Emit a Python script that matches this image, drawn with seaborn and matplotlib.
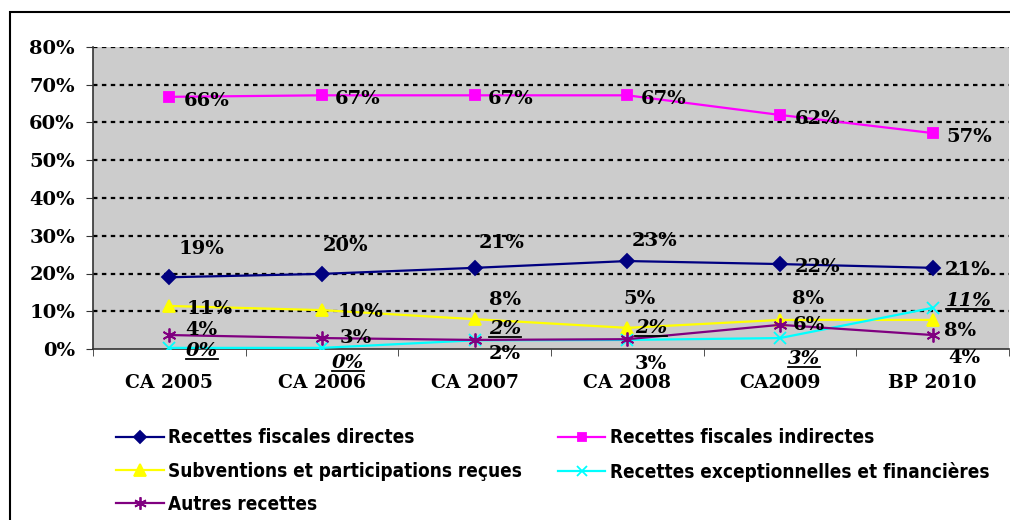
import numpy as np
import pandas as pd
import matplotlib
matplotlib.use("Agg")
import matplotlib.pyplot as plt
import seaborn as sns
from matplotlib.patches import Rectangle
from matplotlib.lines import Line2D

# Data (percentages)
years = ["CA 2005", "CA 2006", "CA 2007", "CA 2008", "CA2009", "BP 2010"]
directes = [19.0, 19.9, 21.5, 23.3, 22.5, 21.5]
indirectes = [66.8, 67.2, 67.2, 67.2, 62.0, 57.2]
subventions = [11.4, 10.3, 7.9, 5.6, 7.7, 7.7]
exceptionnelles = [0.3, 0.3, 2.3, 2.4, 2.9, 10.9]
autres = [3.7, 2.9, 2.4, 2.6, 6.4, 3.7]

# data labels as printed on the chart
lab_directes = ["19%", "20%", "21%", "23%", "22%", "21%"]
lab_indirectes = ["66%", "67%", "67%", "67%", "62%", "57%"]
lab_subventions = ["11%", "10%", "8%", "5%", "8%", "8%"]
lab_exceptionnelles = ["0%", "0%", "2%", "2%", "3%", "11%"]
lab_autres = ["4%", "3%", "2%", "3%", "6%", "4%"]

names = ["Recettes fiscales directes", "Recettes fiscales indirectes",
         "Subventions et participations reçues",
         "Recettes exceptionnelles et financières", "Autres recettes"]

# label offsets in pixels (dx right, dy up)
off_directes = [(32, 28), (23, 28), (27, 25), (27, 20), (38, -3), (35, -2)]
off_indirectes = [(37, -4), (36, -4), (36, -4), (36, -4), (38, -4), (37, -4)]
off_subventions = [(40, -3), (38, -2), (30, 19), (12, 29), (28, 21), (27, -11)]
off_exceptionnelles = [(33, -3), (26, -15), (30, 11), (24, 12), (24, -21), (36, 7)]
off_autres = [(32, 5), (34, 0), (30, -14), (23, -25), (29, 0), (32, -23)]

series = [
    (names[0], directes, lab_directes, off_directes, "#000080", "D", 7, False),
    (names[1], indirectes, lab_indirectes, off_indirectes, "#FF00FF", "s", 7, False),
    (names[2], subventions, lab_subventions, off_subventions, "#FFFF00", "^", 9, False),
    (names[3], exceptionnelles, lab_exceptionnelles, off_exceptionnelles, "#00FFFF", "x", 8, True),
    (names[4], autres, lab_autres, off_autres, "#800080", (6, 2, 0), 10, False),
]

pos = np.arange(len(years))

fig = plt.figure(figsize=(10.1, 5.2), dpi=100)
ax = fig.add_axes([93 / 1010, 1 - 349 / 520, (1009 - 93) / 1010, (349 - 47) / 520])
ax.set_facecolor("#CCCCCC")

serif = ["DejaVu Serif"]
handles = {}
for name, vals, labs, offs, col, mk, ms, special in series:
    df = pd.DataFrame({"x": pos, "y": vals})
    sns.lineplot(data=df, x="x", y="y", ax=ax, color=col, marker=mk,
                 markersize=ms, markeredgecolor=col, markerfacecolor=col,
                 markeredgewidth=1.3, linewidth=1.6, legend=False, zorder=3)
    handles[name] = Line2D([], [], color=col, marker=mk, markersize=ms - 1,
                           markeredgecolor=col, markerfacecolor=col,
                           markeredgewidth=1.3, linewidth=1.6)

underline_texts = []
for name, vals, labs, offs, col, mk, ms, special in series:
    for i, (v, t, (dx, dy)) in enumerate(zip(vals, labs, offs)):
        txt = ax.annotate(t, xy=(pos[i], v), xytext=(dx * 0.72, dy * 0.72),
                          textcoords="offset points", ha="center", va="center",
                          fontsize=14, fontweight="bold", family=serif,
                          style="italic" if special else "normal",
                          color="black", zorder=5)
        if special:
            underline_texts.append(txt)

ax.set_xlim(-0.5, len(years) - 0.5)
ax.set_ylim(0, 80)
ax.set_yticks(np.arange(0, 81, 10))
ax.set_yticklabels([f"{v}%" for v in range(0, 81, 10)], fontsize=14,
                   fontweight="bold", family=serif)
ax.set_xticks(pos)
ax.set_xticklabels(years, fontsize=13.5, fontweight="bold", family=serif)
ax.set_xticks(np.arange(-0.5, len(years)), minor=True)
ax.tick_params(axis="x", which="major", length=0, pad=18)
ax.tick_params(axis="x", which="minor", length=5, direction="out", color="#333333")
ax.tick_params(axis="y", length=5, direction="out", color="#333333", pad=8)
ax.set_xlabel("")
ax.set_ylabel("")

for y in range(10, 81, 10):
    ax.axhline(y, color="black", linestyle=(0, (2, 2)), linewidth=1.6, zorder=1)

for s in ["top", "right"]:
    ax.spines[s].set_visible(False)
for s in ["left", "bottom"]:
    ax.spines[s].set_color("#333333")
    ax.spines[s].set_linewidth(1.2)

# outer border
fig.patches.append(Rectangle((10 / 1010, -0.05), 1.2, 1 - 12 / 520 + 0.05,
                             transform=fig.transFigure, fill=False,
                             edgecolor="black", linewidth=1.5))

order = [names[0], names[2], names[4], names[1], names[3]]
fig.legend([handles[n] for n in order], order, ncol=2, frameon=False,
           loc="upper left", bbox_to_anchor=(107 / 1010, 1 - 419 / 520),
           borderpad=0, handlelength=2.5, handletextpad=0.25, columnspacing=1.9,
           labelspacing=0.75,
           prop={"family": ["DejaVu Sans"], "stretch": "condensed",
                 "weight": "bold", "size": 13.6})

# underline for the italic labels
fig.canvas.draw()
renderer = fig.canvas.get_renderer()
for txt in underline_texts:
    bb = txt.get_window_extent(renderer)
    y0 = bb.y0 + 1
    fig.add_artist(Line2D([bb.x0 / fig.bbox.width, bb.x1 / fig.bbox.width],
                          [y0 / fig.bbox.height, y0 / fig.bbox.height],
                          transform=fig.transFigure, color="black", linewidth=1.3))

fig.savefig("out.png", dpi=100)
